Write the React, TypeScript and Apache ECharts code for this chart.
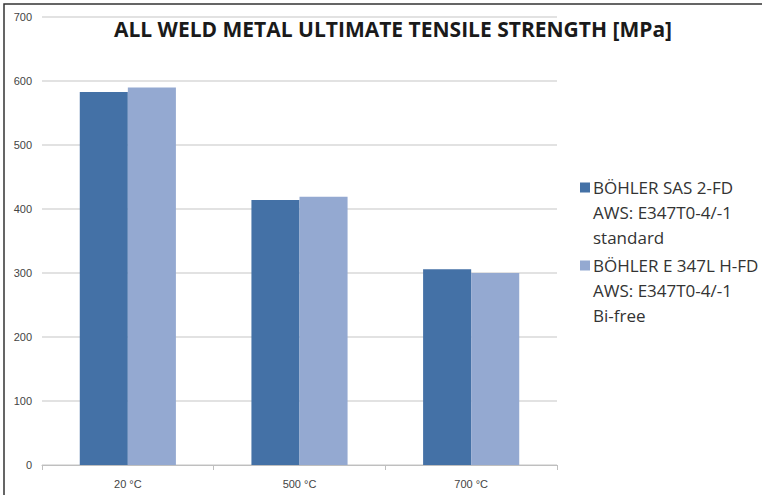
import React, { useEffect, useRef } from "react";
import * as echarts from "echarts";

const categories = ["20 °C", "500 °C", "700 °C"];
const seriesNames = [
  "BÖHLER SAS 2-FD\nAWS: E347T0-4/-1\nstandard",
  "BÖHLER E 347L H-FD\nAWS: E347T0-4/-1\nBi-free",
];
const standardValues = [583, 414, 306];
const biFreeValues = [590, 419, 300];
const titleText = "ALL WELD METAL ULTIMATE TENSILE STRENGTH [MPa]";

const legendIcon = "path://M0 7.5H10V17.5H0Z M0 0L0.01 0 M0 75L0.01 75";

export default function App() {
  const ref = useRef<HTMLDivElement>(null);
  useEffect(() => {
    if (!ref.current) return;
    const chart = echarts.init(ref.current, null, { renderer: "svg" });
    chart.setOption({
      animation: false,
      backgroundColor: "#ffffff",
      title: {
        text: titleText,
        left: 388,
        top: 13,
        textAlign: "center",
        textStyle: { fontFamily: "Open Sans", fontWeight: "bold", fontSize: 21, color: "#1a1a1a" },
      },
      grid: { left: 42, right: 205, top: 17, bottom: 30, containLabel: false },
      legend: {
        orient: "vertical",
        left: 575,
        top: 170,
        itemWidth: 10,
        itemHeight: 75,
        itemGap: 3,
        itemStyle: { borderWidth: 0 },
        textStyle: { fontFamily: "Open Sans", fontSize: 17, color: "#333", lineHeight: 25, padding: [0, 0, 0, -2] },
        icon: legendIcon,
        data: seriesNames,
      },
      xAxis: {
        type: "category",
        data: categories,
        axisLine: { lineStyle: { color: "#bfbfbf" } },
        axisTick: { show: true, length: 5, lineStyle: { color: "#bfbfbf" } },
        axisLabel: { color: "#444", fontFamily: "Liberation Sans Narrow, Liberation Sans", fontSize: 11, margin: 13 },
      },
      yAxis: {
        type: "value",
        min: 0,
        max: 700,
        interval: 100,
        axisLine: { show: false },
        axisTick: { show: false },
        splitLine: { lineStyle: { color: "#d9d9d9", width: 1.5 } },
        axisLabel: { color: "#444", fontFamily: "Liberation Sans Narrow, Liberation Sans", fontSize: 11, margin: 10 },
      },
      series: [
        {
          name: seriesNames[0],
          type: "bar",
          data: standardValues,
          barGap: "0%",
          barCategoryGap: "44%",
          itemStyle: { color: "#4471A6" },
        },
        {
          name: seriesNames[1],
          type: "bar",
          data: biFreeValues,
          barGap: "0%",
          barCategoryGap: "44%",
          itemStyle: { color: "#94A9D1" },
        },
      ],
      graphic: [
        {
          type: "rect",
          shape: { x: 4, y: 4, width: 800, height: 520 },
          style: { fill: "none", stroke: "#333", lineWidth: 1.5 },
          silent: true,
        },
      ],
    });
    return () => chart.dispose();
  }, []);
  return <div ref={ref} style={{ width: 762, height: 495, position: "absolute", left: 0, top: 0 }} />;
}
